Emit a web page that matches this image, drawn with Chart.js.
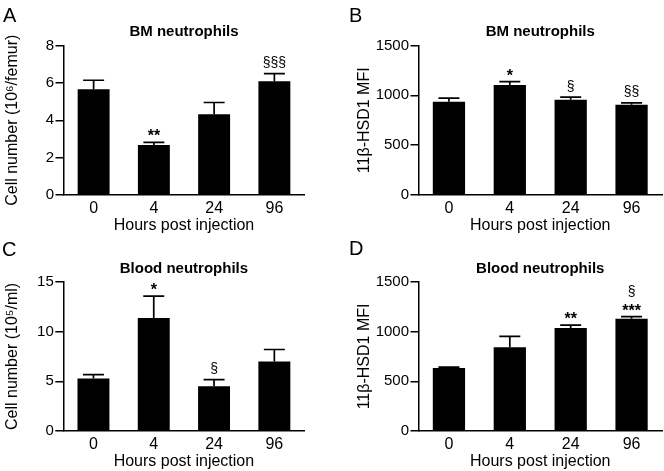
<!DOCTYPE html>
<html>
<head>
<meta charset="utf-8">
<script src="https://cdn.jsdelivr.net/npm/chart.js@4"></script>
<style>
  html, body { margin: 0; padding: 0; background: #fff; }
  #wrap { position: relative; width: 664px; height: 471px; overflow: hidden; }
  canvas { position: absolute; }
</style>
</head>
<body>
<div id="wrap">
  <canvas id="cA" width="332" height="235" style="left:0;top:0"></canvas>
  <canvas id="cB" width="332" height="235" style="left:332px;top:0"></canvas>
  <canvas id="cC" width="332" height="236" style="left:0;top:235px"></canvas>
  <canvas id="cD" width="332" height="236" style="left:332px;top:235px"></canvas>
</div>
<script>
// ---- data ----
const hours = ['0', '4', '24', '96'];

// A: BM neutrophil count (10^6/femur)
const bmCount      = [5.66, 2.68, 4.32, 6.09];
const bmCountErr   = [0.48, 0.14, 0.63, 0.41];
const bmCountStars = ['', '**', '', ''];
const bmCountSect  = ['', '', '', '§§§'];

// B: BM neutrophil 11b-HSD1 MFI
const bmMfi      = [935, 1104, 955, 905];
const bmMfiErr   = [37, 33, 27, 20];
const bmMfiStars = ['', '*', '', ''];
const bmMfiSect  = ['', '', '§', '§§'];

// C: blood neutrophil count (10^5/ml)
const bloodCount      = [5.27, 11.37, 4.5, 7.0];
const bloodCountErr   = [0.4, 2.2, 0.67, 1.2];
const bloodCountStars = ['', '*', '', ''];
const bloodCountSect  = ['', '', '§', ''];

// D: blood neutrophil 11b-HSD1 MFI
const bloodMfi      = [635, 843, 1035, 1130];
const bloodMfiErr   = [8, 109, 30, 20];
const bloodMfiStars = ['', '', '**', '***'];
const bloodMfiSect  = ['', '', '', '§'];

const FONT = '"Liberation Sans", Arial, Helvetica, sans-serif';
Chart.defaults.font.family = FONT;
Chart.defaults.color = '#000';

// error bars (upper only) + significance marks
const errorBars = {
  id: 'errorBars',
  afterDatasetsDraw(chart, args, opts) {
    const ctx = chart.ctx;
    const y = chart.scales.y;
    const meta = chart.getDatasetMeta(0);
    const vals = chart.data.datasets[0].data;
    ctx.save();
    ctx.strokeStyle = '#000';
    ctx.fillStyle = '#000';
    ctx.lineWidth = 1.7;
    meta.data.forEach((bar, i) => {
      const yBar = y.getPixelForValue(vals[i]);
      const yErr = y.getPixelForValue(vals[i] + opts.err[i]);
      ctx.beginPath();
      ctx.moveTo(bar.x, yBar);
      ctx.lineTo(bar.x, yErr);
      ctx.moveTo(bar.x - 10.5, yErr);
      ctx.lineTo(bar.x + 10.5, yErr);
      ctx.stroke();

      ctx.textAlign = 'center';
      ctx.textBaseline = 'alphabetic';
      let cy = yErr - 10;
      if (opts.stars[i]) {
        ctx.font = 'bold 16px ' + FONT;
        ctx.fillText(opts.stars[i], bar.x, cy + 9);
        cy -= 14.5;
      }
      if (opts.sect[i]) {
        ctx.font = '14px ' + FONT;
        ctx.fillText(opts.sect[i], bar.x, cy + 3.6);
      }
    });
    ctx.restore();
  }
};

const panelLetter = {
  id: 'panelLetter',
  afterDraw(chart, args, opts) {
    const ctx = chart.ctx;
    ctx.save();
    ctx.font = '20px ' + FONT;
    ctx.fillStyle = '#000';
    ctx.textAlign = 'left';
    ctx.textBaseline = 'alphabetic';
    ctx.fillText(opts.text, opts.x, opts.y);
    ctx.restore();
  }
};

function makeChart(p) {
  return new Chart(document.getElementById(p.id), {
    type: 'bar',
    data: {
      labels: hours,
      datasets: [{
        data: p.values,
        backgroundColor: '#000',
        borderWidth: 0,
        barPercentage: 0.53,
        categoryPercentage: 1
      }]
    },
    options: {
      responsive: false,
      animation: false,
      events: [],
      layout: { padding: { top: p.padTop, right: p.padRight, left: 0, bottom: 0 } },
      plugins: {
        legend: { display: false },
        tooltip: { enabled: false },
        title: {
          display: true,
          text: p.title,
          fullSize: false,
          color: '#000',
          font: { size: 15, weight: 'bold' },
          padding: { top: 0, bottom: p.titleGap }
        },
        errorBars: { err: p.err, stars: p.stars, sect: p.sect },
        panelLetter: { text: p.letter, x: p.letterX, y: p.letterY }
      },
      scales: {
        x: {
          grid: { display: false, drawTicks: false },
          border: { display: true, color: '#000', width: 1.5 },
          ticks: { padding: 4, font: { size: 16 }, maxRotation: 0 },
          title: { display: true, text: 'Hours post injection', font: { size: 16 }, padding: { top: 0, bottom: 0 } },
          afterFit: s => { s.height = p.xHeight; }
        },
        y: {
          min: 0,
          max: p.max,
          ticks: { stepSize: p.step, padding: 1.5, font: { size: 15 }, callback: v => String(v) },
          grid: { display: true, drawOnChartArea: false, drawTicks: true, tickLength: 8, color: '#000', lineWidth: 1.5 },
          border: { display: true, color: '#000', width: 1.5 },
          title: { display: true, text: p.yTitle, font: { size: 16 }, padding: { top: p.yTitlePad, bottom: 0 } },
          afterFit: s => { s.width = p.yWidth; }
        }
      }
    },
    plugins: [errorBars, panelLetter]
  });
}

makeChart({
  id: 'cA', letter: 'A', letterX: 3, letterY: 22,
  title: 'BM neutrophils', yTitle: 'Cell number (10⁶/femur)',
  values: bmCount, err: bmCountErr, stars: bmCountStars, sect: bmCountSect,
  max: 8, step: 2,
  padTop: 23, titleGap: 4.5, padRight: 27.5, yWidth: 63.5, yTitlePad: 3, xHeight: 40
});
makeChart({
  id: 'cB', letter: 'B', letterX: 17, letterY: 22,
  title: 'BM neutrophils', yTitle: '11β-HSD1 MFI',
  values: bmMfi, err: bmMfiErr, stars: bmMfiStars, sect: bmMfiSect,
  max: 1500, step: 500,
  padTop: 23, titleGap: 4.5, padRight: 2, yWidth: 86.5, yTitlePad: 22.5, xHeight: 40
});
makeChart({
  id: 'cC', letter: 'C', letterX: 2, letterY: 21,
  title: 'Blood neutrophils', yTitle: 'Cell number (10⁵/ml)',
  values: bloodCount, err: bloodCountErr, stars: bloodCountStars, sect: bloodCountSect,
  max: 15, step: 5,
  padTop: 24.6, titleGap: 4.3, padRight: 27.5, yWidth: 63.3, yTitlePad: 3, xHeight: 40
});
makeChart({
  id: 'cD', letter: 'D', letterX: 17, letterY: 20,
  title: 'Blood neutrophils', yTitle: '11β-HSD1 MFI',
  values: bloodMfi, err: bloodMfiErr, stars: bloodMfiStars, sect: bloodMfiSect,
  max: 1500, step: 500,
  padTop: 24.6, titleGap: 4.3, padRight: 2, yWidth: 86.5, yTitlePad: 22.5, xHeight: 40
});
</script>
</body>
</html>
